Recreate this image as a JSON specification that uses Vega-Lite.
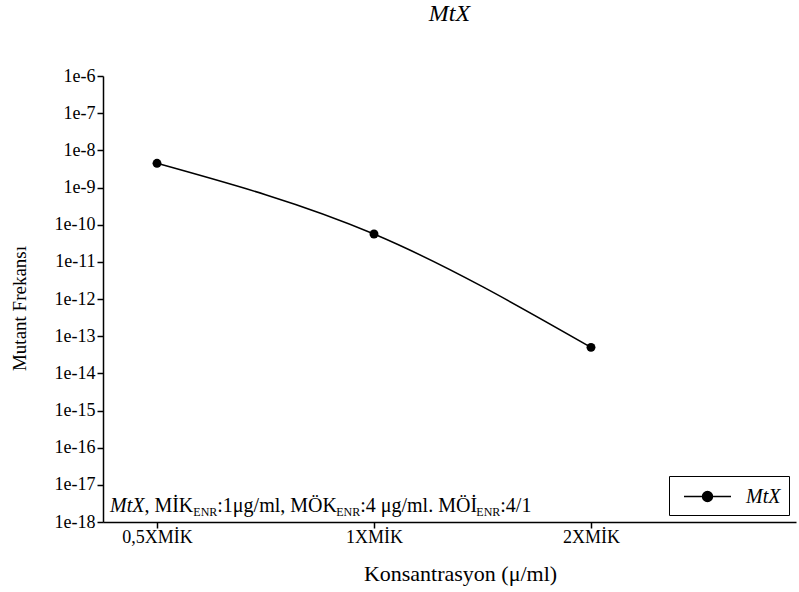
{
  "$schema": "https://vega.github.io/schema/vega-lite/v6.json",
  "width": 693,
  "height": 446,
  "autosize": "none",
  "padding": {"left": 103, "top": 76, "right": 3, "bottom": 70},
  "background": "white",
  "title": {"text": "MtX", "font": "Liberation Serif", "fontSize": 24, "fontStyle": "italic", "fontWeight": "normal", "color": "black", "anchor": "middle", "frame": "group", "offset": 41},
  "config": {
    "view": {"stroke": null},
    "axis": {"labelFont": "Liberation Serif", "titleFont": "Liberation Serif", "labelColor": "black", "titleColor": "black", "domainColor": "black", "tickColor": "black", "grid": false, "domainWidth": 1.5, "tickWidth": 1.5, "tickSize": 6, "titleFontWeight": "normal"}
  },
  "layer": [
    {
      "data": {"values": [
        {"konsantrasyon": "0,5XMİK", "frekans": 4.48e-9, "seri": "MtX"},
        {"konsantrasyon": "1XMİK", "frekans": 5.6e-11, "seri": "MtX"},
        {"konsantrasyon": "2XMİK", "frekans": 5.0e-14, "seri": "MtX"}
      ]},
      "mark": {"type": "line", "interpolate": "monotone", "strokeWidth": 1.5, "point": {"filled": true, "size": 80}},
      "encoding": {
        "x": {"field": "konsantrasyon", "type": "nominal", "sort": null,
          "scale": {"type": "point", "domain": ["0,5XMİK", "1XMİK", "2XMİK"], "padding": 0.5968, "align": 0.2085},
          "axis": {"title": "Konsantrasyon (μ/ml)", "labelAngle": 0, "labelFontSize": 18, "labelBaseline": "alphabetic", "labelPadding": 14, "labelFlush": false, "titleFontSize": 22, "titleX": 357, "titleY": 58, "titleBaseline": "alphabetic", "titleAlign": "center"}},
        "y": {"field": "frekans", "type": "quantitative",
          "scale": {"type": "log", "domain": [1e-18, 1e-6], "nice": false},
          "axis": {"title": "Mutant Frekansı", "values": [1e-18, 1e-17, 1e-16, 1e-15, 1e-14, 1e-13, 1e-12, 1e-11, 1e-10, 1e-9, 1e-8, 1e-7, 1e-6], "format": ".0e", "labelFontSize": 18, "labelPadding": 2, "titleFontSize": 19, "titleX": -84, "titleY": 232, "titleAngle": -90, "titleBaseline": "middle", "titleAlign": "center"}},
        "color": {"field": "seri", "type": "nominal", "scale": {"range": ["black"]},
          "legend": {"title": null, "orient": "bottom-right", "offset": 7, "strokeColor": "black", "padding": 8, "fillColor": "white",
            "symbolType": "M-2,0L2,0M-0.42,0A0.42,0.42,0,1,1,0.42,0A0.42,0.42,0,1,1,-0.42,0Z",
            "symbolSize": 552, "symbolOffset": 18, "symbolStrokeWidth": 1.5, "symbolStrokeColor": "black", "symbolFillColor": "black",
            "labelFont": "Liberation Serif", "labelFontSize": 20, "labelFontStyle": "italic", "labelColor": "black", "labelOffset": 26,
            "encode": {"symbols": {"update": {"fill": {"value": "black"}, "stroke": {"value": "black"}}}}}}
      }
    },
    {"data": {"values": [{}]}, "mark": {"type": "text", "text": "MtX", "font": "Liberation Serif", "fontSize": 20, "fontStyle": "italic", "align": "left", "baseline": "alphabetic", "dx": -47, "dy": -10, "color": "black"},
     "encoding": {"x": {"datum": "0,5XMİK", "type": "nominal"}, "y": {"datum": 1e-18, "type": "quantitative"}}},
    {"data": {"values": [{}]}, "mark": {"type": "text", "text": ", MİK", "font": "Liberation Serif", "fontSize": 20, "align": "left", "baseline": "alphabetic", "dx": -12.6, "dy": -10, "color": "black"},
     "encoding": {"x": {"datum": "0,5XMİK", "type": "nominal"}, "y": {"datum": 1e-18, "type": "quantitative"}}},
    {"data": {"values": [{}]}, "mark": {"type": "text", "text": "ENR", "font": "Liberation Serif", "fontSize": 12, "align": "left", "baseline": "alphabetic", "dx": 36.3, "dy": -6, "color": "black"},
     "encoding": {"x": {"datum": "0,5XMİK", "type": "nominal"}, "y": {"datum": 1e-18, "type": "quantitative"}}},
    {"data": {"values": [{}]}, "mark": {"type": "text", "text": ":1μg/ml, MÖK", "font": "Liberation Serif", "fontSize": 20, "align": "left", "baseline": "alphabetic", "dx": 60.3, "dy": -10, "color": "black"},
     "encoding": {"x": {"datum": "0,5XMİK", "type": "nominal"}, "y": {"datum": 1e-18, "type": "quantitative"}}},
    {"data": {"values": [{}]}, "mark": {"type": "text", "text": "ENR", "font": "Liberation Serif", "fontSize": 12, "align": "left", "baseline": "alphabetic", "dx": 179.2, "dy": -6, "color": "black"},
     "encoding": {"x": {"datum": "0,5XMİK", "type": "nominal"}, "y": {"datum": 1e-18, "type": "quantitative"}}},
    {"data": {"values": [{}]}, "mark": {"type": "text", "text": ":4 μg/ml. MÖİ", "font": "Liberation Serif", "fontSize": 20, "align": "left", "baseline": "alphabetic", "dx": 203.2, "dy": -10, "color": "black"},
     "encoding": {"x": {"datum": "0,5XMİK", "type": "nominal"}, "y": {"datum": 1e-18, "type": "quantitative"}}},
    {"data": {"values": [{}]}, "mark": {"type": "text", "text": "ENR", "font": "Liberation Serif", "fontSize": 12, "align": "left", "baseline": "alphabetic", "dx": 319.3, "dy": -6, "color": "black"},
     "encoding": {"x": {"datum": "0,5XMİK", "type": "nominal"}, "y": {"datum": 1e-18, "type": "quantitative"}}},
    {"data": {"values": [{}]}, "mark": {"type": "text", "text": ":4/1", "font": "Liberation Serif", "fontSize": 20, "align": "left", "baseline": "alphabetic", "dx": 343.3, "dy": -10, "color": "black"},
     "encoding": {"x": {"datum": "0,5XMİK", "type": "nominal"}, "y": {"datum": 1e-18, "type": "quantitative"}}}
  ]
}
